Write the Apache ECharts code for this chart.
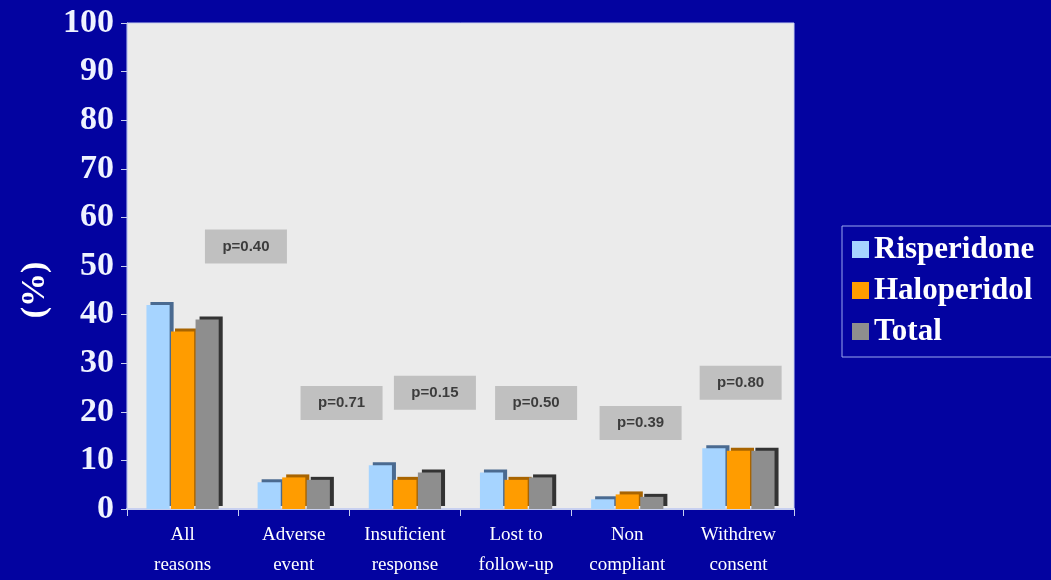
<!DOCTYPE html>
<html><head><meta charset="utf-8">
<script src="https://cdn.jsdelivr.net/npm/echarts@6/dist/echarts.min.js"></script>
<style>html,body{margin:0;padding:0;background:#0303a0;}#c{width:1051px;height:580px;}</style>
</head><body><div id="c"></div>
<script>
const categories = ['All\nreasons','Adverse\nevent','Insuficient\nresponse','Lost to\nfollow-up','Non\ncompliant','Withdrew\nconsent'];
const risperidone = [42, 5.5, 9, 7.5, 2, 12.5];
const haloperidol = [36.5, 6.5, 6, 6, 3, 12];
const total = [39, 6, 7.5, 6.5, 2.5, 12];
const pLabels = ['p=0.40','p=0.71','p=0.15','p=0.50','p=0.39','p=0.80'];
const pLabelX = [0.57, 1.43, 2.27, 3.18, 4.12, 5.02];
const pLabelY = [54, 21.8, 23.9, 21.8, 17.7, 26];
const yTicks = [0,10,20,30,40,50,60,70,80,90,100];

const chart = echarts.init(document.getElementById('c'));
const serif = '"Liberation Serif","DejaVu Serif",serif';
function barSeries(name, data, color, side){
  return {name, type:'bar', data, barGap:'6%', barCategoryGap:'35%',
    itemStyle:{color, shadowColor:side, shadowBlur:0, shadowOffsetX:4, shadowOffsetY:-3}};
}
chart.setOption({
  backgroundColor:'#0303a0',
  animation:false,
  grid:{left:127, right:257, top:23, bottom:67, show:true, backgroundColor:'#ebebeb', borderColor:'#c8d0f0', borderWidth:1},
  legend:{
    left:842, top:226, orient:'vertical', icon:'rect', itemWidth:17, itemHeight:17, itemGap:10,
    padding:[8,20,10,10], borderColor:'#9aa8ee', borderWidth:1,
    textStyle:{color:'#ffffff', fontFamily:serif, fontWeight:'bold', fontSize:31},
    data:['Risperidone','Haloperidol','Total']
  },
  xAxis:[{
    type:'category', data:categories,
    axisLine:{lineStyle:{color:'#c8d0f0', width:2}},
    axisTick:{show:true, length:7, lineStyle:{color:'#c8d0f0'}},
    axisLabel:{interval:0, color:'#ffffff', fontFamily:serif, fontSize:19, lineHeight:30, margin:11}
  },{
    type:'value', min:-0.5, max:5.5, show:false
  }],
  yAxis:{
    type:'value', min:0, max:100, interval:10,
    name:'(%)', nameLocation:'middle', nameGap:70, nameRotate:90,
    nameTextStyle:{color:'#ffffff', fontFamily:serif, fontWeight:'bold', fontSize:34, padding:[0,48,0,0]},
    axisLine:{show:true, onZero:false, lineStyle:{color:'#c8d0f0'}},
    axisTick:{show:true, length:6, lineStyle:{color:'#c8d0f0'}},
    splitLine:{show:false},
    axisLabel:{color:'#eef2ff', fontFamily:serif, fontWeight:'bold', fontSize:34, margin:13,
      formatter:v=>yTicks.includes(v)?String(v):''}
  },
  series:[
    barSeries('Risperidone', risperidone, '#a6d4ff', '#4a6a90'),
    barSeries('Haloperidol', haloperidol, '#ff9c00', '#a86400'),
    barSeries('Total', total, '#8e8e8e', '#333333'),
    {type:'scatter', xAxisIndex:1, symbol:'rect', symbolSize:[82,34], silent:true,
      itemStyle:{color:'#b5b5b5'},
      data:pLabelX.map((x,i)=>({value:[x,pLabelY[i]], name:pLabels[i]})),
      label:{show:true, position:'inside', formatter:p=>p.name, color:'#1a1a1a',
        fontFamily:'"Liberation Sans",Arial,sans-serif', fontWeight:'bold', fontSize:15}}
  ]
});
</script></body></html>
